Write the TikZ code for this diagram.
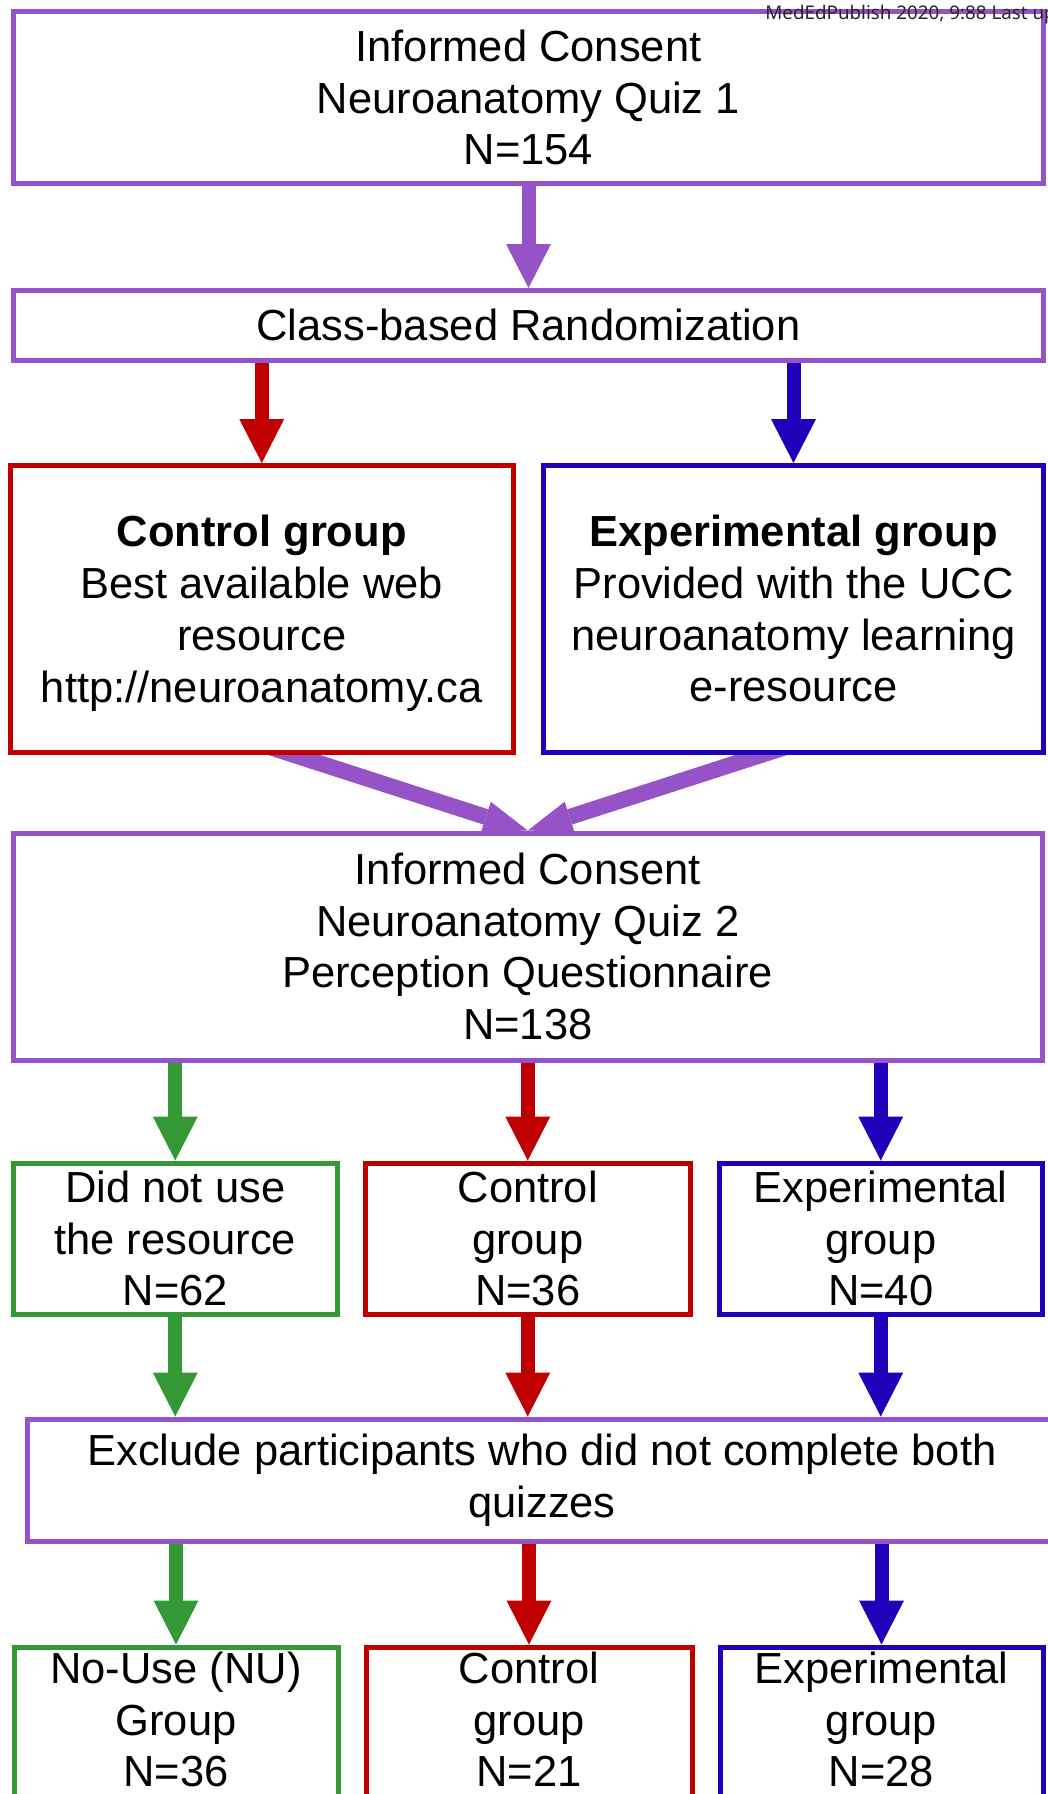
\documentclass[tikz,border=0pt]{standalone}
\usepackage{fontspec}
\setmainfont{Liberation Sans}
\newfontfamily\wmfont{Noto Sans}
\usetikzlibrary{arrows.meta,backgrounds}
\definecolor{purp}{RGB}{150,82,199}
\definecolor{redc}{RGB}{192,0,0}
\definecolor{bluec}{RGB}{33,0,185}
\definecolor{greenc}{RGB}{52,153,52}
\begin{document}
\begin{tikzpicture}[x=0.5pt,y=-0.5pt,
  box/.style={draw, line width=2.5pt, fill=white, rectangle, inner sep=0pt, align=center,
    font=\fontsize{21.75pt}{25.85pt}\selectfont},
  varrow/.style={line width=7pt, -{Triangle[width=22.5pt,length=22pt,line width=0pt 0 0]}},
  darrow/.style={line width=8pt, -{Triangle[width=16pt,length=22pt,line width=0pt 0 0]}}]
\path[use as bounding box] (0,0) rectangle (1048,1794);
\clip (0,0) rectangle (1048,1794);

\node[box, draw=purp, minimum width=515pt, minimum height=86pt] (b1) at (528.5,97.5)
  {Informed Consent\\Neuroanatomy Quiz 1\\N=154};
\node[box, draw=purp, minimum width=515pt, minimum height=34.75pt] (b2) at (528.5,325.25)
  {Class-based Randomization};
\node[box, draw=redc, minimum width=251.25pt, minimum height=143.25pt] (ctrl) at (261.75,608.75)
  {\textbf{Control group}\\Best available web\\resource\\\smash{http://neuroanatomy.ca}};
\node[box, draw=bluec, minimum width=250pt, minimum height=143.25pt] (exp) at (793.5,608.75)
  {\textbf{Experimental group}\\Provided with the UCC\\neuroanatomy learning\\e-resource};
\node[box, draw=purp, minimum width=514.25pt, minimum height=113.5pt] (b3) at (527.75,946.5)
  {Informed Consent\\Neuroanatomy Quiz 2\\Perception Questionnaire\\N=138};
\node[box, draw=greenc, minimum width=161.75pt, minimum height=75.5pt] (g1) at (175.25,1238.5)
  {Did not use\\the resource\\N=62};
\node[box, draw=redc, minimum width=162.75pt, minimum height=75.5pt] (c1) at (527.75,1238.5)
  {Control\\group\\N=36};
\node[box, draw=bluec, minimum width=161.75pt, minimum height=75.5pt] (e1) at (880.75,1238.5)
  {Experimental\\group\\N=40};
\node[box, draw=purp, minimum width=515pt, minimum height=61pt] (ex) at (542,1480)
  {Exclude participants who did not complete both\\quizzes};
\node[box, draw=greenc, minimum width=162pt, minimum height=75.5pt] (g2) at (176,1722.5)
  {No-Use (NU)\\Group\\N=36\rule[-3pt]{0pt}{3pt}};
\node[box, draw=redc, minimum width=163pt, minimum height=75.5pt] (c2) at (529,1722.5)
  {Control\\group\\N=21\rule[-3pt]{0pt}{3pt}};
\node[box, draw=bluec, minimum width=161.5pt, minimum height=75.5pt] (e2) at (881.5,1722.5)
  {Experimental\\group\\N=28\rule[-3pt]{0pt}{3pt}};

\begin{scope}[on background layer]
\draw[varrow, purp] (b1.south) -- (b2.north);
\draw[varrow, redc] (b2.south -| ctrl.north) -- (ctrl.north);
\draw[varrow, bluec] (b2.south -| exp.north) -- (exp.north);
\draw[darrow, purp] ([yshift=5pt]ctrl.south) -- (b3.north);
\draw[darrow, purp] ([yshift=5pt]exp.south) -- (b3.north);
\draw[varrow, greenc] (b3.south -| g1.north) -- (g1.north);
\draw[varrow, redc] (b3.south -| c1.north) -- (c1.north);
\draw[varrow, bluec] (b3.south -| e1.north) -- (e1.north);
\draw[varrow, greenc] (g1.south) -- (g1.south |- ex.north);
\draw[varrow, redc] (c1.south) -- (c1.south |- ex.north);
\draw[varrow, bluec] (e1.south) -- (e1.south |- ex.north);
\draw[varrow, greenc] (ex.south -| g2.north) -- (g2.north);
\draw[varrow, redc] (ex.south -| c2.north) -- (c2.north);
\draw[varrow, bluec] (ex.south -| e2.north) -- (e2.north);
\end{scope}

\node[anchor=base west, inner sep=0pt, font=\wmfont\fontsize{9.4pt}{11pt}\selectfont, text=black!85] (wm) at (765,19)
  {MedEdPublish 2020, 9:88 Last up};
\end{tikzpicture}
\end{document}
